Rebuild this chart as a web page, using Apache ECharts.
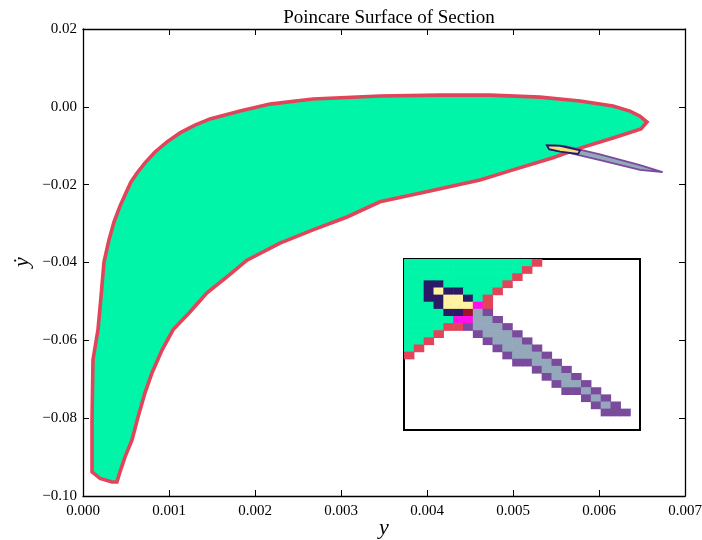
<!DOCTYPE html>
<html>
<head>
<meta charset="utf-8">
<script src="https://cdn.jsdelivr.net/npm/echarts@6/dist/echarts.min.js"></script>
<style>html,body{margin:0;padding:0;background:#fff}#c{width:702px;height:540px}</style>
</head>
<body>
<div id="c"></div>
<script>
// ---- data ----
const xTickLabels = ['0.000','0.001','0.002','0.003','0.004','0.005','0.006','0.007'];
const yTickLabels = ['\u22120.10','\u22120.08','\u22120.06','\u22120.04','\u22120.02','0.00','0.02'];
const xAxisTitle = 'y';
const yAxisTitle = '\u1E8F';

// outer (upper/left) edge of the section, bottom-left up to the tip
const upperX = [0.000105,0.000105,0.000116,0.000174,0.000209,0.000244,0.000302,0.000360,0.000430,0.000500,0.000558,0.000628,0.000721,0.000837,0.000977,0.001128,0.001302,0.001477,0.001826,0.002174,0.002674,0.003453,0.004151,0.004733,0.005314,0.005779,0.006163,0.006360,0.006477,0.006558];
const upperY = [-0.0938,-0.0805,-0.0650,-0.0573,-0.0489,-0.0399,-0.0342,-0.0296,-0.0255,-0.0221,-0.0193,-0.0170,-0.0144,-0.0116,-0.0090,-0.0067,-0.0047,-0.0031,-0.0011,0.0007,0.0020,0.0028,0.0030,0.0030,0.0025,0.0015,0.0002,-0.0011,-0.0024,-0.0039];
// inner (lower/right) edge, tip back down to the bottom
const lowerX = [0.006488,0.006163,0.005779,0.005465,0.005000,0.004616,0.004035,0.003453,0.003070,0.002674,0.002291,0.001907,0.001674,0.001442,0.001244,0.001047,0.000919,0.000802,0.000721,0.000640,0.000570,0.000488,0.000430,0.000395,0.000337,0.000198];
const lowerY = [-0.0057,-0.0080,-0.0106,-0.0131,-0.0162,-0.0188,-0.0216,-0.0244,-0.0283,-0.0316,-0.0350,-0.0394,-0.0437,-0.0478,-0.0527,-0.0573,-0.0625,-0.0684,-0.0735,-0.0797,-0.0856,-0.0900,-0.0938,-0.0964,-0.0964,-0.0955];

// thin island orbit
const islandX = [0.005395,0.005605,0.006012,0.006477,0.006740,0.006477,0.006012,0.005605,0.005430];
const islandY = [-0.0099,-0.0101,-0.0122,-0.0150,-0.0168,-0.0162,-0.0137,-0.0116,-0.0110];
const coreX = [0.005395,0.005547,0.005780,0.005756,0.005547,0.005420];
const coreY = [-0.0099,-0.0100,-0.0112,-0.0121,-0.0115,-0.0109];

// inset: magnified cell map (g green, r red, n navy, y yellow, m magenta, d dark red, p purple, s slate)
const insetRows = [
 'gggggggggggggr',
 'ggggggggggggr',
 'gggggggggggr',
 'ggnnggggggr',
 'ggnynngggr',
 'ggnnyyngr',
 'gggnyyymr',
 'ggggnndsp',
 'gggggmmssp',
 'ggggrrpsssp',
 'gggr...psssp',
 'ggr.....psssp',
 'gr.......psssp',
 'r.........psssp',
 '...........ppssp',
 '.............pssp',
 '..............pssp',
 '...............pssp',
 '................ppsp',
 '..................psp',
 '...................psp',
 '....................ppp',
 '',
 ''
];

// ---- styling ----
const FONT = "'Liberation Serif','DejaVu Serif',serif";
const palette = {g:'#00F5A8', r:'#E2445A', n:'#2B1A66', y:'#FFF2A0', m:'#FF10E8', d:'#A0142A', p:'#7A4A9C', s:'#94A8BC'};

const outlineX = upperX.concat(lowerX);
const outlineY = upperY.concat(lowerY);

function polyItem(xs, ys, style) {
  return function (params, api) {
    const pts = xs.map((x, i) => api.coord([x, ys[i]]));
    return {type: 'polygon', shape: {points: pts}, style: style};
  };
}

const cells = [];
insetRows.forEach((row, r) => {
  for (let c = 0; c < row.length; c++) {
    const k = row[c];
    if (k === '.') continue;
    cells.push({value: [c, r], itemStyle: {color: palette[k]}});
  }
});

const chart = echarts.init(document.getElementById('c'), null, {renderer: 'canvas'});
const tickStyle = {show: true, inside: true, length: 6, lineStyle: {color: '#000', width: 1}};
const lineStyle = {show: true, onZero: false, lineStyle: {color: '#000', width: 1.3}};

chart.setOption({
  animation: false,
  backgroundColor: '#fff',
  title: {
    text: 'Poincare Surface of Section', left: 384, top: 4, textAlign: 'center',
    textStyle: {fontFamily: FONT, fontSize: 19, fontWeight: 'normal', color: '#000'}
  },
  graphic: [
    {type: 'text', x: 384, y: 528, silent: true,
     style: {text: xAxisTitle, fontFamily: FONT, fontSize: 22, fontStyle: 'italic', fill: '#000', align: 'center', verticalAlign: 'middle'}},
    {type: 'text', x: 22, y: 262, rotation: Math.PI / 2, silent: true,
     style: {text: yAxisTitle, fontFamily: FONT, fontSize: 22, fontStyle: 'italic', fill: '#000', align: 'center', verticalAlign: 'middle'}}
  ],
  grid: [
    {left: 83, right: 17, top: 29, bottom: 44, show: false, outerBoundsMode: 'none'},
    {left: 404, top: 259, width: 236, height: 171, show: true, borderColor: '#000', borderWidth: 2, backgroundColor: '#fff', z: 10, outerBoundsMode: 'none'}
  ],
  xAxis: [
    {gridIndex: 0, type: 'value', min: 0, max: 0.007, interval: 0.001, position: 'bottom',
     axisLine: lineStyle, axisTick: tickStyle, splitLine: {show: false},
     axisLabel: {color: '#000', fontFamily: FONT, fontSize: 15, margin: 8,
       formatter: v => xTickLabels[Math.round(v / 0.001)]}},
    {gridIndex: 0, type: 'value', min: 0, max: 0.007, interval: 0.001, position: 'top',
     axisLine: lineStyle, axisTick: tickStyle, splitLine: {show: false}, axisLabel: {show: false}},
    {gridIndex: 1, type: 'value', min: 0, max: 24, show: false, splitLine: {show: false}}
  ],
  yAxis: [
    {gridIndex: 0, type: 'value', min: -0.10, max: 0.02, interval: 0.02, position: 'left',
     axisLine: lineStyle, axisTick: tickStyle, splitLine: {show: false},
     axisLabel: {color: '#000', fontFamily: FONT, fontSize: 15, margin: 6,
       formatter: v => yTickLabels[Math.round((v + 0.10) / 0.02)]}},
    {gridIndex: 0, type: 'value', min: -0.10, max: 0.02, interval: 0.02, position: 'right',
     axisLine: lineStyle, axisTick: tickStyle, splitLine: {show: false}, axisLabel: {show: false}},
    {gridIndex: 1, type: 'value', min: 0, max: 24, inverse: true, show: false, splitLine: {show: false}}
  ],
  series: [
    {type: 'custom', xAxisIndex: 0, yAxisIndex: 0, clip: true, silent: true,
     data: [[outlineX[0], outlineY[0]]],
     renderItem: polyItem(outlineX, outlineY, {fill: palette.g, stroke: palette.r, lineWidth: 3.6, lineJoin: 'miter'})},
    {type: 'custom', xAxisIndex: 0, yAxisIndex: 0, clip: true, silent: true, z: 3,
     data: [[islandX[0], islandY[0]]],
     renderItem: polyItem(islandX, islandY, {fill: palette.s, stroke: palette.p, lineWidth: 1.8})},
    {type: 'custom', xAxisIndex: 0, yAxisIndex: 0, clip: true, silent: true, z: 4,
     data: [[coreX[0], coreY[0]]],
     renderItem: polyItem(coreX, coreY, {fill: '#F3E27A', stroke: palette.n, lineWidth: 1.8})},
    {type: 'custom', xAxisIndex: 2, yAxisIndex: 2, clip: true, silent: true, z: 12,
     data: cells,
     renderItem: function (params, api) {
       const c = api.value(0), r = api.value(1);
       const a = api.coord([c, r]), b = api.coord([c + 1, r + 1]);
       return {type: 'rect',
         shape: {x: Math.min(a[0], b[0]), y: Math.min(a[1], b[1]), width: Math.abs(b[0] - a[0]) + 0.6, height: Math.abs(b[1] - a[1]) + 0.6},
         style: {fill: api.visual('color')}};
     }}
  ]
});
</script>
</body>
</html>
